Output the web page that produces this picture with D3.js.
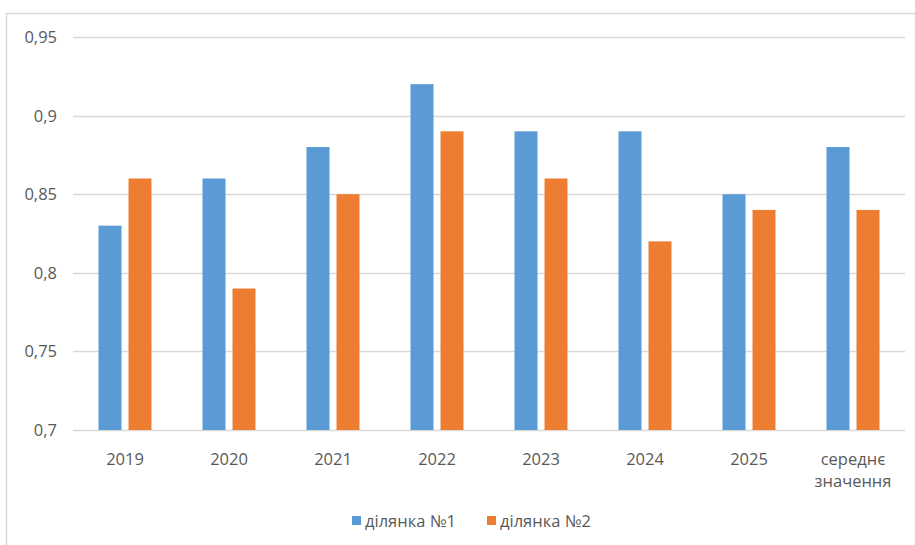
<!DOCTYPE html>
<html>
<head>
<meta charset="utf-8">
<script src="https://cdn.jsdelivr.net/npm/d3@7"></script>
<style>
  html, body { margin: 0; padding: 0; background: #fff; }
  svg { display: block; }
  text { font-family: "Open Sans", "Noto Sans", sans-serif; fill: #595959; }
</style>
</head>
<body>
<svg id="chart" width="915" height="545"></svg>
<script>
// Категорії та значення для двох ділянок
const categories = ["2019", "2020", "2021", "2022", "2023", "2024", "2025", "середнє значення"];
const site1 = [0.83, 0.86, 0.88, 0.92, 0.89, 0.89, 0.85, 0.88];
const site2 = [0.86, 0.79, 0.85, 0.89, 0.86, 0.82, 0.84, 0.84];
const seriesNames = ["ділянка №1", "ділянка №2"];
const seriesColors = ["#5B9BD5", "#ED7D31"];
const yTicks = [0.7, 0.75, 0.8, 0.85, 0.9, 0.95];

const svg = d3.select("#chart");
const W = 915, H = 545;
const margin = { left: 73, right: 10, top: 37, bottom: 115 };
const plotRight = W - margin.right;
const plotBottom = H - margin.bottom;

// Рамка області діаграми
svg.append("rect")
  .attr("x", 6.5).attr("y", 13.5)
  .attr("width", W - 6).attr("height", H)
  .attr("fill", "#fff")
  .attr("stroke", "#d9d9d9").attr("stroke-width", 1.5);

const x = d3.scaleBand().domain(categories).range([margin.left, plotRight]);
const y = d3.scaleLinear().domain([0.7, 0.95]).range([plotBottom, margin.top]);

// Сітка
svg.append("g").selectAll("line").data(yTicks).join("line")
  .attr("x1", margin.left).attr("x2", plotRight)
  .attr("y1", d => Math.round(y(d)) + 0.5).attr("y2", d => Math.round(y(d)) + 0.5)
  .attr("stroke", "#d9d9d9").attr("stroke-width", 1.3);

// Підписи осі Y
const fmt = d => String(+d.toFixed(2)).replace(".", ",");
svg.append("g").selectAll("text").data(yTicks).join("text")
  .attr("x", 57).attr("y", d => y(d) + 6)
  .attr("text-anchor", "end")
  .attr("font-size", 16.5)
  .text(fmt);

// Стовпці
const barW = 23, gap = 7;
const data = [site1, site2];
data.forEach((vals, si) => {
  svg.append("g").selectAll("rect").data(vals).join("rect")
    .attr("x", (d, i) => x(categories[i]) + x.bandwidth() / 2 - barW - gap / 2 + si * (barW + gap))
    .attr("y", d => y(d))
    .attr("width", barW)
    .attr("height", d => plotBottom - y(d))
    .attr("fill", seriesColors[si]);
});

// Підписи категорій (з переносом)
const xl = svg.append("g");
categories.forEach(c => {
  const words = c.split(" ");
  const t = xl.append("text")
    .attr("x", x(c) + x.bandwidth() / 2)
    .attr("y", plotBottom + 35)
    .attr("text-anchor", "middle")
    .attr("font-size", 16.5);
  words.forEach((w, i) => {
    t.append("tspan").attr("x", x(c) + x.bandwidth() / 2).attr("dy", i === 0 ? 0 : 22).text(w);
  });
});

// Легенда
const legend = svg.append("g");
const legendX = [352, 487];
seriesNames.forEach((n, i) => {
  legend.append("rect").attr("x", legendX[i]).attr("y", 516).attr("width", 9).attr("height", 9)
    .attr("fill", seriesColors[i]);
  legend.append("text").attr("x", legendX[i] + 13).attr("y", 527)
    .attr("font-size", 16.5).text(n);
});
</script>
</body>
</html>
